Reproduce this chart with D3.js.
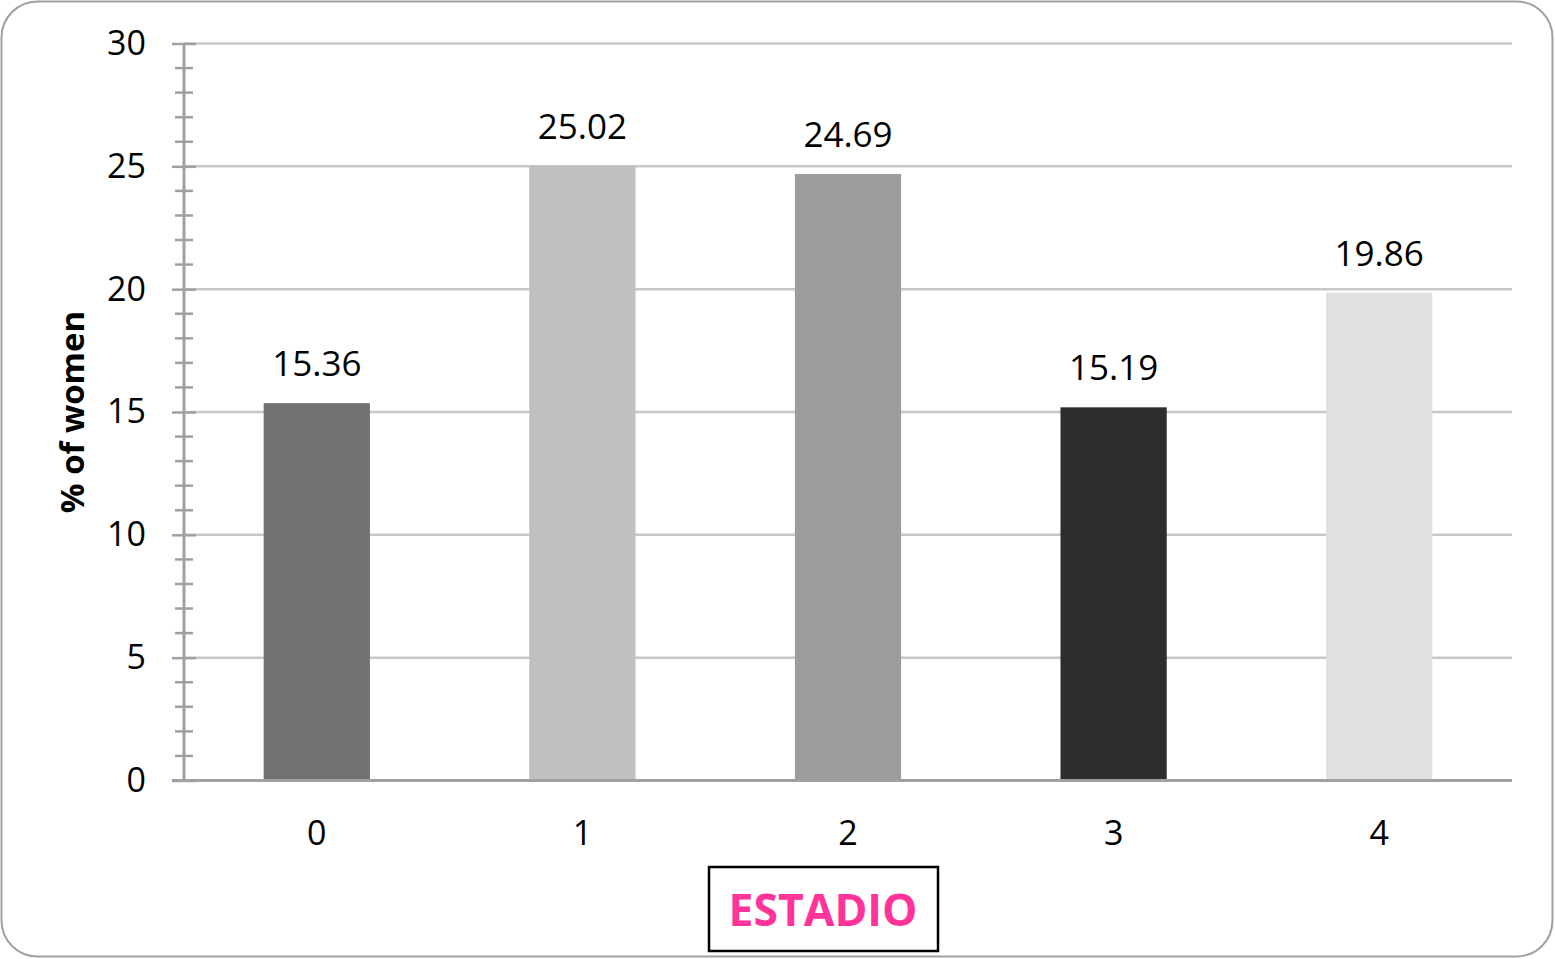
<!DOCTYPE html>
<html><head><meta charset="utf-8">
<script src="https://cdn.jsdelivr.net/npm/d3@7"></script>
<style>body{margin:0;background:#fff;}svg{display:block;}</style>
</head><body>
<svg id="c" width="1555" height="959"></svg>
<script>
const categories = ["0","1","2","3","4"];
const values = [15.36, 25.02, 24.69, 15.19, 19.86];
const barColors = ["#717171","#c0c0c0","#9c9c9c","#2d2d2d","#e0e0e0"];
const yTicks = [0,5,10,15,20,25,30];
const yTitle = "% of women";
const xTitle = "ESTADIO";

const svg = d3.select("#c");
const F = "'Open Sans', 'DejaVu Sans', sans-serif";
svg.append("rect").attr("x",1.5).attr("y",1.5).attr("width",1551).attr("height",955)
  .attr("rx",36).attr("ry",36).attr("fill","#fff").attr("stroke","#a0a0a0").attr("stroke-width",2);

const x0 = 184, x1 = 1512, yb = 780.5, yt = 43.5;
const x = d3.scaleBand().domain(categories).range([x0,x1]).paddingInner(0.6).paddingOuter(0.3);
const y = d3.scaleLinear().domain([0,30]).range([yb,yt]);

// gridlines
svg.append("g").selectAll("line").data(yTicks.filter(d=>d>0)).join("line")
  .attr("x1",x0).attr("x2",x1).attr("y1",d=>y(d)).attr("y2",d=>y(d))
  .attr("stroke","#c8c8c8").attr("stroke-width",2.5);

// bars
svg.append("g").selectAll("rect").data(values).join("rect")
  .attr("x",(d,i)=>x(categories[i])).attr("width",x.bandwidth())
  .attr("y",d=>y(d)).attr("height",d=>yb-y(d))
  .attr("fill",(d,i)=>barColors[i]);

// value labels
svg.append("g").selectAll("text").data(values).join("text")
  .attr("x",(d,i)=>x(categories[i])+x.bandwidth()/2).attr("y",d=>y(d)-27)
  .attr("text-anchor","middle").attr("font-family",F).attr("font-size",35).attr("fill","#000")
  .text(d=>d.toFixed(2));

// y axis with minor ticks
const yMinor = d3.range(0,31,1);
svg.append("g").selectAll("line").data(yMinor.filter(d=>d%5!==0)).join("line")
  .attr("x1",175).attr("x2",193).attr("y1",d=>y(d)).attr("y2",d=>y(d))
  .attr("stroke","#a0a0a0").attr("stroke-width",2.5);
const yAxis = d3.axisLeft(y).tickValues(yTicks).tickSize(12).tickPadding(26);
const ga = svg.append("g").attr("transform",`translate(${x0},0)`).call(yAxis);
ga.select(".domain").remove();
ga.selectAll(".tick line").attr("x2",-12).attr("x1",12).attr("stroke","#a0a0a0").attr("stroke-width",2.5);
ga.selectAll(".tick text").attr("font-family",F).attr("font-size",34).attr("fill","#000");
svg.append("line").attr("x1",x0).attr("x2",x0).attr("y1",yt).attr("y2",yb)
  .attr("stroke","#a0a0a0").attr("stroke-width",3);

// x axis
const xAxis = d3.axisBottom(x).tickSize(0).tickPadding(40);
const gx = svg.append("g").attr("transform",`translate(0,${yb})`).call(xAxis);
gx.select(".domain").remove();
gx.selectAll(".tick text").attr("font-family",F).attr("font-size",34).attr("fill","#000");
svg.append("line").attr("x1",172).attr("x2",x1).attr("y1",yb).attr("y2",yb)
  .attr("stroke","#a0a0a0").attr("stroke-width",3);

// y title
svg.append("text").attr("transform","translate(84,412) rotate(-90)")
  .attr("text-anchor","middle").attr("font-family",F).attr("font-weight","bold")
  .attr("font-size",33).attr("fill","#000").text(yTitle);

// x title box
svg.append("rect").attr("x",709).attr("y",867).attr("width",229).attr("height",84)
  .attr("fill","#fff").attr("stroke","#000").attr("stroke-width",2.5);
svg.append("text").attr("x",823).attr("y",926).attr("text-anchor","middle")
  .attr("font-family",F).attr("font-weight","bold").attr("font-size",44.5).attr("fill","#ff3399")
  .text(xTitle);
</script>
</body></html>
